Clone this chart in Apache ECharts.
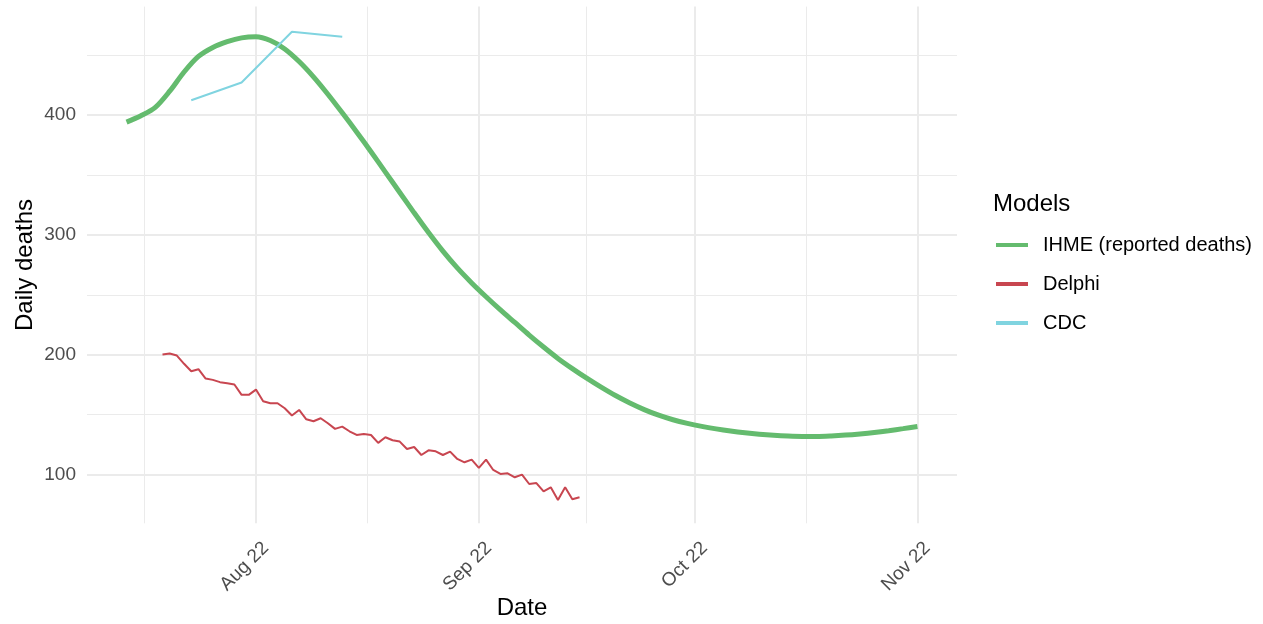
<!DOCTYPE html>
<html>
<head>
<meta charset="utf-8">
<script src="https://cdn.jsdelivr.net/npm/echarts@6/dist/echarts.min.js"></script>
<style>
  html, body { margin: 0; padding: 0; background: #fff; }
  #chart { width: 1263px; height: 624px; }
</style>
</head>
<body>
<div id="chart"></div>
<script>
// ---- data ----
// IHME: one value every 2 days starting 2020-08-04
const ihmeStart = '2020-08-04'
const ihmeStepDays = 2
const ihmeDeaths = [394.2, 399.5, 406.5, 420, 436, 449, 456.5, 461.3, 464.5, 465.4,
  462.3, 455.3, 444.8, 432, 417.5, 402, 386, 369.5, 352.5, 335.5,
  318.5, 302, 286.5, 272.5, 260, 248.5, 237.5, 227, 216.5, 206.5,
  197, 188.5, 180.5, 173, 166, 159.8, 154.3, 149.6, 145.8, 142.8,
  140.3, 138.2, 136.4, 134.9, 133.7, 132.8, 132.2, 131.9, 131.9, 132.3,
  133, 134, 135.2, 136.7, 138.4, 140.2]

// Delphi: daily starting 2020-08-09
const delphiStart = '2020-08-09'
const delphiDeaths = [200.3, 201.1, 199.4, 192.5, 186.3, 188.0, 180.2, 179.1, 177.2, 176.3,
  175.2, 166.6, 166.6, 171.0, 161.3, 159.6, 159.6, 155.4, 149.3, 154.0,
  146.2, 144.6, 147.1, 142.9, 138.2, 140.1, 136.2, 133.1, 134.0, 133.1,
  126.5, 131.2, 128.7, 127.6, 121.4, 123.1, 116.4, 120.3, 119.5, 116.4,
  119.2, 113.1, 110.3, 112.5, 105.6, 112.5, 103.9, 100.6, 101.1, 97.8,
  100, 92.2, 93.0, 86.1, 89.4, 78.8, 89.4, 79.4, 81.1]

// CDC: weekly
const cdcDates = ['2020-08-13', '2020-08-20', '2020-08-27', '2020-09-03']
const cdcDeaths = [412.5, 427.3, 469.6, 465.4]

// axis breaks
const xBreaks = ['2020-08-22', '2020-09-22', '2020-10-22', '2020-11-22']
const xMinorBreaks = ['2020-08-06 12', '2020-09-06 12', '2020-10-07 00', '2020-11-06 12']
const yBreaks = [100, 200, 300, 400]
const yMinorBreaks = [150, 250, 350, 450]
const monthNames = ['Jan', 'Feb', 'Mar', 'Apr', 'May', 'Jun', 'Jul', 'Aug', 'Sep', 'Oct', 'Nov', 'Dec']

const DAY = 86400000
// 'YYYY-MM-DD' or 'YYYY-MM-DD HH' -> utc timestamp
function ts (s) {
  const p = s.split(/[- ]/)
  return Date.UTC(+p[0], +p[1] - 1, +p[2], p[3] ? +p[3] : 0)
}
function daily (start, step, vals) {
  const t0 = ts(start)
  return vals.map((v, i) => [t0 + i * step * DAY, v])
}

const xMin = ts('2020-07-29 12')
const xMax = ts('2020-11-27 12')
const yMin = 59.4
const yMax = 490.6
const font = 'Liberation Sans, Arial, Helvetica, sans-serif'

const chart = echarts.init(document.getElementById('chart'))
chart.setOption({
  animation: false,
  textStyle: { fontFamily: font },
  title: {
    text: 'Models',
    left: 993,
    top: 192,
    padding: 0,
    textStyle: { fontSize: 24, fontWeight: 'normal', color: '#000', fontFamily: font }
  },
  legend: {
    orient: 'vertical',
    left: 996,
    top: 235,
    padding: 0,
    icon: 'rect',
    itemWidth: 32,
    itemHeight: 4,
    itemGap: 19,
    textStyle: { fontSize: 20, lineHeight: 20, color: '#000', padding: [0, 0, 0, 10], fontFamily: font },
    data: ['IHME (reported deaths)', 'Delphi', 'CDC']
  },
  grid: { left: 87, right: 306, top: 6.6, bottom: 100.7, containLabel: false, outerBoundsMode: 'none' },
  xAxis: [
    {
      type: 'value',
      min: xMin,
      max: xMax,
      name: 'Date',
      nameLocation: 'middle',
      nameGap: 73,
      nameMoveOverlap: false,
      nameTextStyle: { fontSize: 24, color: '#000', fontFamily: font },
      axisLine: { show: false },
      axisTick: { show: false, customValues: xBreaks.map(ts) },
      axisLabel: {
        customValues: xBreaks.map(ts),
        formatter: v => { const d = new Date(v); return monthNames[d.getUTCMonth()] + ' ' + d.getUTCDate() },
        rotate: 45,
        align: 'right',
        verticalAlign: 'top',
        lineHeight: 28,
        margin: 12,
        fontSize: 19,
        color: '#4d4d4d',
        fontFamily: font
      },
      splitLine: { show: true, lineStyle: { color: '#ebebeb', width: 2 } }
    },
    {
      type: 'value',
      min: xMin,
      max: xMax,
      position: 'bottom',
      axisLine: { show: false },
      axisTick: { show: false, customValues: xMinorBreaks.map(ts) },
      axisLabel: { show: false, customValues: xMinorBreaks.map(ts) },
      splitLine: { show: true, lineStyle: { color: '#ebebeb', width: 1 } }
    }
  ],
  yAxis: [
    {
      type: 'value',
      min: yMin,
      max: yMax,
      name: 'Daily deaths',
      nameLocation: 'middle',
      nameRotate: 90,
      nameGap: 50,
      nameMoveOverlap: false,
      nameTextStyle: { fontSize: 24, color: '#000', fontFamily: font },
      axisLine: { show: false },
      axisTick: { show: false, customValues: yBreaks },
      axisLabel: { customValues: yBreaks, margin: 11, fontSize: 19, color: '#4d4d4d', fontFamily: font },
      splitLine: { show: true, lineStyle: { color: '#ebebeb', width: 2 } }
    },
    {
      type: 'value',
      min: yMin,
      max: yMax,
      position: 'left',
      axisLine: { show: false },
      axisTick: { show: false, customValues: yMinorBreaks },
      axisLabel: { show: false, customValues: yMinorBreaks },
      splitLine: { show: true, lineStyle: { color: '#ebebeb', width: 1 } }
    }
  ],
  series: [
    {
      name: 'IHME (reported deaths)',
      type: 'line',
      data: daily(ihmeStart, ihmeStepDays, ihmeDeaths),
      smooth: 0.3,
      symbol: 'none',
      lineStyle: { color: '#64bb6e', width: 5 },
      itemStyle: { color: '#64bb6e' }
    },
    {
      name: 'Delphi',
      type: 'line',
      data: daily(delphiStart, 1, delphiDeaths),
      symbol: 'none',
      lineStyle: { color: '#c84650', width: 2 },
      itemStyle: { color: '#c84650' }
    },
    {
      name: 'CDC',
      type: 'line',
      data: cdcDates.map((d, i) => [ts(d), cdcDeaths[i]]),
      symbol: 'none',
      lineStyle: { color: '#80d4e0', width: 2 },
      itemStyle: { color: '#80d4e0' }
    }
  ]
})
</script>
</body>
</html>
